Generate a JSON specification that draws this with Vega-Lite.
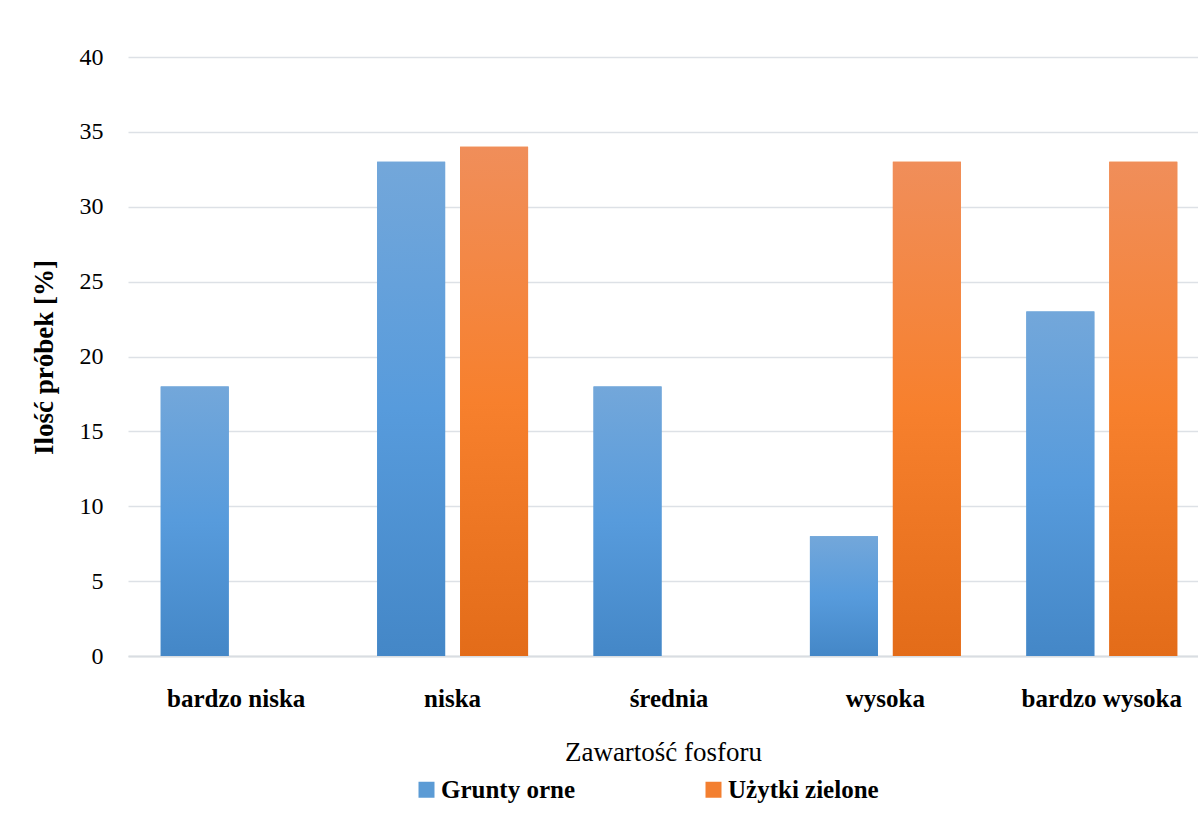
{
  "$schema": "https://vega.github.io/schema/vega-lite/v6.json",
  "autosize": {"type": "none"},
  "width": 1070,
  "height": 599,
  "padding": {"left": 128, "top": 57, "right": 0, "bottom": 179},
  "background": "white",
  "config": {
    "view": {"stroke": null},
    "font": "Liberation Serif"
  },
  "data": {
    "values": [
      {"kategoria": "bardzo niska", "typ": "Grunty orne", "wartosc": 18},
      {"kategoria": "bardzo niska", "typ": "Użytki zielone", "wartosc": 0},
      {"kategoria": "niska", "typ": "Grunty orne", "wartosc": 33},
      {"kategoria": "niska", "typ": "Użytki zielone", "wartosc": 34},
      {"kategoria": "średnia", "typ": "Grunty orne", "wartosc": 18},
      {"kategoria": "średnia", "typ": "Użytki zielone", "wartosc": 0},
      {"kategoria": "wysoka", "typ": "Grunty orne", "wartosc": 8},
      {"kategoria": "wysoka", "typ": "Użytki zielone", "wartosc": 33},
      {"kategoria": "bardzo wysoka", "typ": "Grunty orne", "wartosc": 23},
      {"kategoria": "bardzo wysoka", "typ": "Użytki zielone", "wartosc": 33}
    ]
  },
  "encoding": {
    "x": {
      "field": "kategoria",
      "type": "nominal",
      "sort": ["bardzo niska", "niska", "średnia", "wysoka", "bardzo wysoka"],
      "scale": {"range": [0, 1082], "paddingInner": 0.3025, "paddingOuter": 0.15125},
      "axis": {
        "title": "Zawartość fosforu",
        "titleFont": "Liberation Serif",
        "titleFontSize": 27,
        "titleFontWeight": "normal",
        "titleColor": "#000000",
        "titlePadding": 28,
        "titleX": 535,
        "titleAnchor": "middle",
        "labelAngle": 0,
        "labelFont": "Liberation Serif",
        "labelFontSize": 25,
        "labelFontWeight": "bold",
        "labelColor": "#000000",
        "labelPadding": 30,
        "ticks": false,
        "domainColor": "#d9dde2",
        "domainWidth": 2,
        "grid": false
      }
    },
    "xOffset": {
      "field": "typ",
      "type": "nominal",
      "sort": ["Grunty orne", "Użytki zielone"],
      "scale": {"paddingInner": 0.18, "paddingOuter": 0}
    },
    "y": {
      "field": "wartosc",
      "type": "quantitative",
      "scale": {"domain": [0, 40]},
      "axis": {
        "title": "Ilość próbek [%]",
        "titleFont": "Liberation Serif",
        "titleFontSize": 27,
        "titleFontWeight": "bold",
        "titleColor": "#000000",
        "titleAngle": 270,
        "titleX": -84,
        "titleY": 300,
        "titleAlign": "center",
        "titleBaseline": "middle",
        "values": [0, 5, 10, 15, 20, 25, 30, 35, 40],
        "labelFont": "Liberation Serif",
        "labelFontSize": 24,
        "labelColor": "#000000",
        "labelPadding": 25,
        "ticks": false,
        "domain": false,
        "grid": true,
        "gridColor": "#dde1e6",
        "gridWidth": 1.5
      }
    }
  },
  "layer": [
    {
      "mark": {"type": "bar"},
      "encoding": {
        "color": {
          "field": "typ",
          "type": "nominal",
          "scale": {
            "domain": ["Grunty orne", "Użytki zielone"],
            "range": ["#5b9bd5", "#f37f30"]
          },
          "legend": {
            "title": null,
            "orient": "none",
            "legendX": 286,
            "legendY": 720,
            "direction": "horizontal",
            "columns": 2,
            "columnPadding": 125,
            "symbolType": "square",
            "symbolSize": 256,
            "symbolStrokeWidth": 0,
            "labelFont": "Liberation Serif",
            "labelFontSize": 25,
            "labelFontWeight": "bold",
            "labelColor": "#000000",
            "labelOffset": 2,
            "labelLimit": 300
          }
        }
      }
    },
    {
      "transform": [{"filter": "datum.typ === 'Grunty orne'"}],
      "mark": {
        "type": "bar",
        "color": {"gradient": "linear", "x1": 0, "y1": 0, "x2": 0, "y2": 1,
          "stops": [{"offset": 0, "color": "#73a7da"}, {"offset": 0.5, "color": "#579bdc"}, {"offset": 1, "color": "#4487c7"}]}
      }
    },
    {
      "transform": [{"filter": "datum.typ === 'Użytki zielone'"}],
      "mark": {
        "type": "bar",
        "color": {"gradient": "linear", "x1": 0, "y1": 0, "x2": 0, "y2": 1,
          "stops": [{"offset": 0, "color": "#f08e5a"}, {"offset": 0.5, "color": "#f7802d"}, {"offset": 1, "color": "#e36c19"}]}
      }
    }
  ]
}
